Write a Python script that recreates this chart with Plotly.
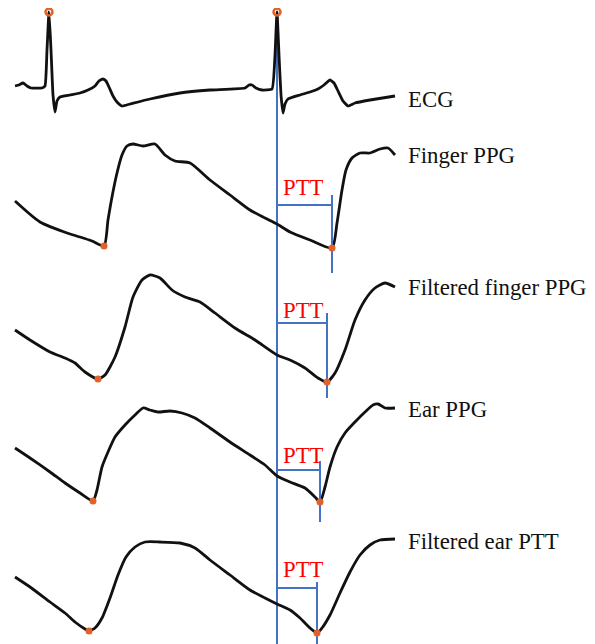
import plotly.graph_objects as go

# ---- data (time in px-units, signal level on the figure's vertical scale) ----
ecg_t = [15, 19, 23, 27, 31, 42, 45, 47, 49, 51, 53, 55, 57, 60, 70, 80, 88, 95, 99, 103, 106, 109, 113, 117, 122, 130, 150, 180, 210, 245, 249, 252, 256, 262, 272, 275, 277, 279, 281, 283, 285, 288, 300, 310, 318, 324, 330, 334, 338, 343, 348, 355, 370, 395]
ecg_v = [86, 85, 83, 86, 88, 88, 86, 50, 12, 50, 95, 112, 101, 97, 95, 93, 90, 86, 81, 79, 81, 87, 96, 102, 106, 104, 99, 93, 90, 88, 85, 85, 88, 90, 89, 55, 12, 55, 95, 113, 104, 99, 95, 92, 89, 85, 80, 83, 91, 101, 106, 103, 100, 96]

fppg_t = [15, 40, 70, 80, 92, 104, 108, 112, 117, 122, 127, 133, 143, 155, 165, 175, 190, 210, 230, 250, 265, 277, 290, 310, 332, 337, 342, 346, 352, 360, 370, 380, 388, 395]
fppg_v = [201, 222, 234, 237, 241, 246, 220, 197, 173, 155, 146, 144, 146, 144, 155, 161, 163, 180, 195, 210, 218, 224, 232, 240, 248, 223, 190, 170, 158, 153, 153, 149, 148, 155]

ffppg_t = [15, 30, 50, 65, 75, 85, 98, 105, 115, 125, 133, 142, 150, 160, 172, 185, 200, 215, 235, 255, 277, 290, 305, 318, 327, 335, 345, 355, 365, 375, 385, 395]
ffppg_v = [330, 340, 352, 358, 363, 372, 379, 375, 357, 327, 297, 280, 275, 278, 290, 297, 302, 313, 328, 340, 355, 360, 368, 378, 382, 373, 350, 320, 300, 288, 283, 287]

eppg_t = [15, 30, 50, 65, 80, 93, 97, 102, 108, 115, 125, 135, 143, 150, 158, 170, 182, 195, 210, 230, 250, 265, 277, 290, 305, 315, 320, 325, 330, 337, 345, 355, 365, 373, 378, 385, 395]
eppg_v = [448, 458, 472, 483, 493, 501, 490, 467, 452, 437, 425, 415, 408, 410, 412, 411, 413, 418, 428, 442, 455, 465, 476, 482, 488, 497, 502, 487, 467, 447, 433, 422, 412, 405, 404, 408, 408]

feppg_t = [15, 30, 50, 65, 75, 85, 89, 95, 102, 110, 118, 126, 135, 145, 160, 180, 195, 210, 230, 250, 265, 277, 290, 300, 310, 317, 322, 330, 340, 350, 360, 370, 380, 395]
feppg_v = [577, 587, 602, 613, 622, 629, 631, 628, 618, 598, 575, 557, 547, 542, 542, 543, 548, 560, 575, 590, 598, 604, 610, 618, 628, 633, 628, 615, 593, 572, 555, 545, 540, 539]

r_peaks_t = [49, 277]
r_peaks_v = [12, 12]

signal_names = ["ECG", "Finger PPG", "Filtered finger PPG", "Ear PPG", "Filtered ear PTT"]
label_levels = [99, 155, 287, 409, 541]

feet_prev_t = [104, 98, 93, 89]
feet_prev_v = [246, 379, 501, 631]
feet_t = [332, 327, 320, 317]
feet_v = [248, 382, 502, 633]

ptt_ref = 277
ptt_levels = [205, 323, 470, 588]
ptt_tick_top = [195, 313, 461, 582]
ptt_tick_bottom = [273, 398, 522, 652]
ptt_text_levels = [187, 310, 455, 569]

# ---- figure ----
BLACK = "#111111"
BLUE = "#4472C4"
ORANGE = "#E2602A"
fig = go.Figure()

# vertical reference line at ECG R peak
fig.add_trace(go.Scatter(x=[ptt_ref, ptt_ref], y=[r_peaks_v[1], 652], mode="lines",
                         line=dict(color=BLUE, width=2), hoverinfo="skip"))

fig.add_trace(go.Scatter(x=ecg_t, y=ecg_v, mode="lines",
                         line=dict(color=BLACK, width=2.8, shape="spline", smoothing=0.4)))
for t, v in [(fppg_t, fppg_v), (ffppg_t, ffppg_v), (eppg_t, eppg_v), (feppg_t, feppg_v)]:
    fig.add_trace(go.Scatter(x=t, y=v, mode="lines",
                             line=dict(color=BLACK, width=2.8, shape="spline", smoothing=0.6)))

# PTT brackets
for lvl, top, bot, ft in zip(ptt_levels, ptt_tick_top, ptt_tick_bottom, feet_t):
    fig.add_trace(go.Scatter(x=[ptt_ref, ft], y=[lvl, lvl], mode="lines",
                             line=dict(color=BLUE, width=2)))
    fig.add_trace(go.Scatter(x=[ft, ft], y=[top, bot], mode="lines",
                             line=dict(color=BLUE, width=2)))

# markers
fig.add_trace(go.Scatter(x=r_peaks_t, y=r_peaks_v, mode="markers", cliponaxis=False,
                         marker=dict(symbol="circle-open", size=7, color=ORANGE, line=dict(width=2.5, color=ORANGE))))
fig.add_trace(go.Scatter(x=feet_prev_t + feet_t, y=feet_prev_v + feet_v, mode="markers", cliponaxis=False,
                         marker=dict(symbol="circle", size=7, color=ORANGE)))

for name, lvl in zip(signal_names, label_levels):
    fig.add_annotation(x=406, y=lvl, text=name, showarrow=False, xanchor="left", yanchor="middle",
                       font=dict(family="Liberation Serif", size=22.8, color="#111111"))
for lvl in ptt_text_levels:
    fig.add_annotation(x=281, y=lvl, text="PTT", showarrow=False, xanchor="left", yanchor="middle",
                       font=dict(family="Liberation Serif", size=22.8, color="#FF0000"))

# page body adds an 8px offset; axis ranges compensate so marks land at the reference positions
fig.update_layout(width=595, height=644, margin=dict(l=0, r=0, t=0, b=0),
                  paper_bgcolor="white", plot_bgcolor="white", showlegend=False,
                  xaxis=dict(range=[8, 603], visible=False, fixedrange=True),
                  yaxis=dict(range=[652, 8], visible=False, fixedrange=True))
fig.write_html("out.html")
